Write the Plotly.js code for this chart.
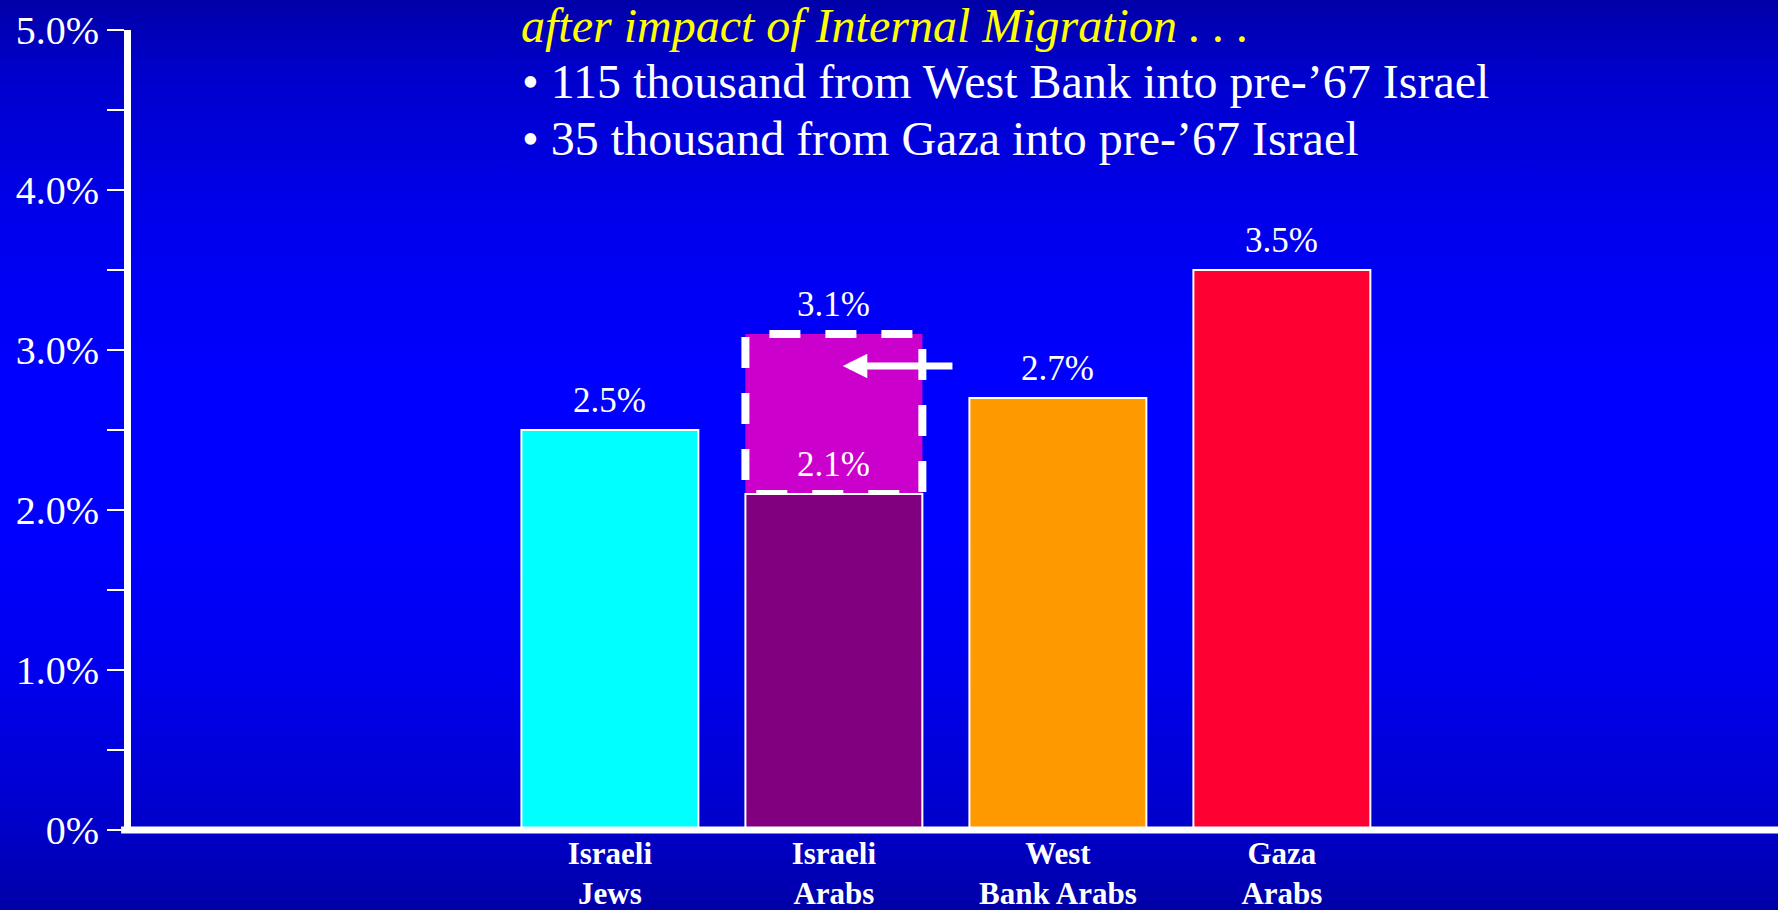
<!DOCTYPE html>
<html>
<head>
<meta charset="utf-8">
<script src="https://cdn.plot.ly/plotly-3.0.1.min.js"></script>
<style>
  html, body { margin: 0; padding: 0; }
  body {
    width: 1778px; height: 910px; overflow: hidden;
    background: linear-gradient(to bottom,
      #0000a8 0%, #0000cc 8%, #0000ee 25%, #0000ff 42%, #0000ff 58%,
      #0000ee 74%, #0000cc 90%, #0000a8 100%);
  }
  #chart { width: 1778px; height: 910px; }
</style>
</head>
<body>
<div id="chart"></div>
<script>
// Annual growth rates by population group
const categories = ['Israeli Jews', 'Israeli Arabs', 'West Bank Arabs', 'Gaza Arabs'];
const categoryLabels = ['Israeli<br>Jews', 'Israeli<br>Arabs', 'West<br>Bank Arabs', 'Gaza<br>Arabs'];
const growthRates = [2.5, 2.1, 2.7, 3.5];
const barColors = ['#00FFFF', '#800080', '#FF9900', '#FF0033'];

// Israeli Arab growth once internal migration is counted
const migrationGroup = 'Israeli Arabs';
const migrationRate = 3.1;

const yTickVals = [0, 1, 2, 3, 4, 5];
const yTickText = ['0%', '1.0%', '2.0%', '3.0%', '4.0%', '5.0%'];

const headline = 'after impact of Internal Migration . . .';
const bulletLines = [
  '\u2022 115 thousand from West Bank into pre-\u201967 Israel',
  '\u2022 35 thousand from Gaza into pre-\u201967 Israel'
];

const SERIF = 'Liberation Serif, Times New Roman, serif';
const BAR_GAP = 0.21;
const half = (1 - BAR_GAP) / 2;
const mIdx = categories.indexOf(migrationGroup);
const baseRate = growthRates[mIdx];

const pct = v => v.toFixed(1) + '%';

const bars = {
  type: 'bar',
  x: categories,
  y: growthRates,
  marker: { color: barColors, line: { color: '#FFFFFF', width: 2 } },
  hoverinfo: 'skip',
  cliponaxis: false
};

const valueLabels = categories.map((c, i) => ({
  x: c, y: growthRates[i], xref: 'x', yref: 'y',
  text: pct(growthRates[i]), showarrow: false,
  yanchor: 'bottom', yshift: 8,
  font: { family: SERIF, size: 35, color: '#FFFFFF' }
}));

valueLabels.push({
  x: migrationGroup, y: migrationRate, xref: 'x', yref: 'y',
  text: pct(migrationRate), showarrow: false,
  yanchor: 'bottom', yshift: 8,
  font: { family: SERIF, size: 35, color: '#FFFFFF' }
});

// arrow pointing into the migration box
valueLabels.push({
  x: mIdx + 0.04, y: migrationRate - 0.2, xref: 'x', yref: 'y',
  ax: mIdx + 0.536, ay: migrationRate - 0.2, axref: 'x', ayref: 'y',
  text: '', showarrow: true, arrowhead: 2, arrowsize: 0.7,
  arrowwidth: 7, arrowcolor: '#FFFFFF', standoff: 0
});

// heading lines
valueLabels.push({
  xref: 'paper', yref: 'paper', x: 0.2356, y: 1.006,
  xanchor: 'left', yanchor: 'middle', showarrow: false,
  text: headline,
  font: { family: SERIF, size: 48, color: '#FFFF00', style: 'italic' }
});
bulletLines.forEach((t, i) => valueLabels.push({
  xref: 'paper', yref: 'paper', x: 0.236, y: 0.935 - i * 0.07,
  xanchor: 'left', yanchor: 'middle', showarrow: false,
  text: t,
  font: { family: SERIF, size: 48, color: '#FFFFFF' }
}));

const shapes = [
  // migration increment: dashed box from base rate up to migration rate
  {
    type: 'rect', xref: 'x', yref: 'y', layer: 'below',
    x0: mIdx - half, x1: mIdx + half,
    y0: migrationRate, y1: baseRate,
    fillcolor: '#CC00CC',
    line: { color: '#FFFFFF', width: 8, dash: '0px,24px,31px,1px' }
  },
  // baseline along the bottom of the plot area
  {
    type: 'line', xref: 'paper', yref: 'paper', layer: 'above',
    x0: -0.006, x1: 1, y0: 0, y1: 0,
    line: { color: '#FFFFFF', width: 7 }
  }
];

const layout = {
  width: 1778, height: 910,
  margin: { l: 131, r: 0, t: 30, b: 80 },
  paper_bgcolor: 'rgba(0,0,0,0)',
  plot_bgcolor: 'rgba(0,0,0,0)',
  showlegend: false,
  bargap: BAR_GAP,
  xaxis: {
    type: 'category',
    range: [-2.138, 5.215],
    tickvals: categories,
    ticktext: categoryLabels,
    showgrid: false, zeroline: false, showline: false, ticks: '',
    ticklabelstandoff: 2,
    tickfont: { family: SERIF, size: 31, color: '#FFFFFF', weight: 'bold' },
    fixedrange: true
  },
  yaxis: {
    range: [0, 5],
    tickvals: yTickVals,
    ticktext: yTickText,
    showgrid: false, zeroline: false,
    showline: true, linecolor: '#FFFFFF', linewidth: 7,
    ticks: 'outside', ticklen: 17, tickwidth: 2, tickcolor: '#FFFFFF',
    minor: { dtick: 0.5, tick0: 0, ticks: 'outside', ticklen: 17, tickwidth: 2, tickcolor: '#FFFFFF', showgrid: false },
    tickfont: { family: SERIF, size: 40, color: '#FFFFFF' },
    fixedrange: true
  },
  annotations: valueLabels,
  shapes: shapes
};

Plotly.newPlot('chart', [bars], layout, { staticPlot: true });
</script>
</body>
</html>
